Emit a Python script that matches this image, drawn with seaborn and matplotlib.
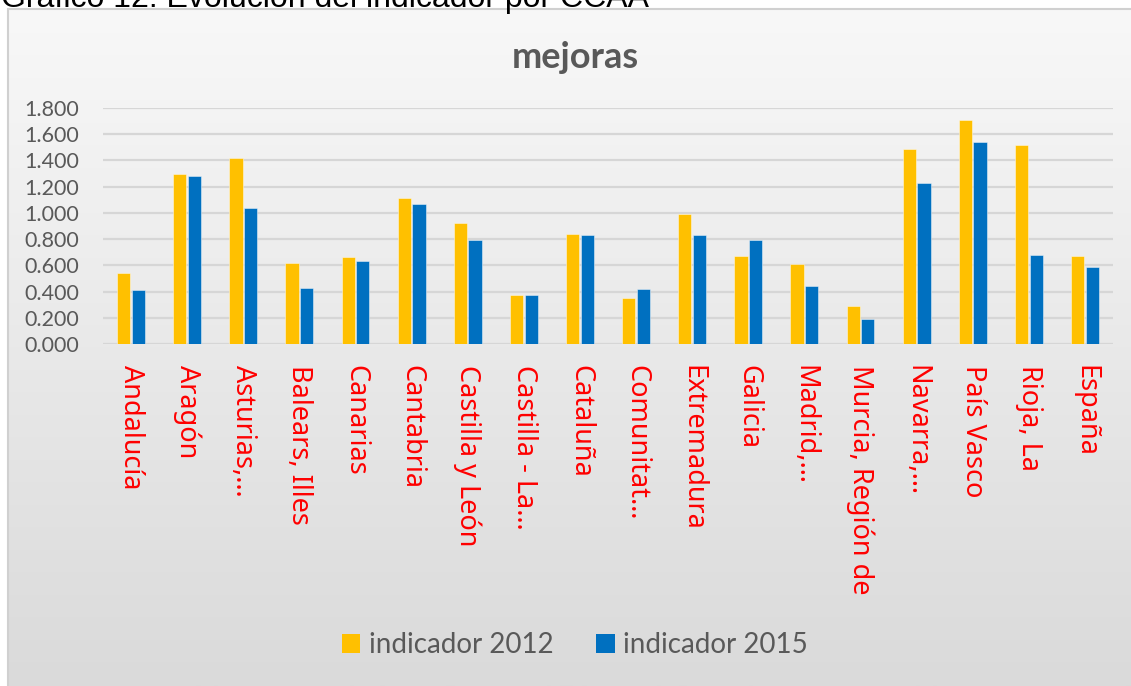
import numpy as np
import pandas as pd
import matplotlib
matplotlib.use("Agg")
import matplotlib.pyplot as plt
from matplotlib.patches import Rectangle
import seaborn as sns

# datos
ccaa = ["Andalucía", "Aragón", "Asturias,…", "Balears, Illes", "Canarias",
        "Cantabria", "Castilla y León", "Castilla - La…", "Cataluña",
        "Comunitat…", "Extremadura", "Galicia", "Madrid,…",
        "Murcia, Región de", "Navarra,…", "País Vasco", "Rioja, La", "España"]
ind_2012 = [0.54, 1.30, 1.42, 0.62, 0.66, 1.11, 0.925, 0.37, 0.84,
            0.35, 0.99, 0.67, 0.61, 0.29, 1.49, 1.71, 1.52, 0.67]
ind_2015 = [0.41, 1.28, 1.04, 0.43, 0.63, 1.07, 0.79, 0.37, 0.83,
            0.42, 0.83, 0.79, 0.44, 0.19, 1.23, 1.54, 0.68, 0.59]
series = ["indicador 2012", "indicador 2015"]
colores = ["#FFC000", "#0070C0"]
yticks = [0.0, 0.2, 0.4, 0.6, 0.8, 1.0, 1.2, 1.4, 1.6, 1.8]

df = pd.DataFrame({
    "ccaa": ccaa * 2,
    "valor": ind_2012 + ind_2015,
    "serie": [series[0]] * len(ccaa) + [series[1]] * len(ccaa),
})

W, H = 1131, 686
fig = plt.figure(figsize=(W / 100, H / 100), dpi=100)
fig.patch.set_facecolor("white")

# fondo del gráfico con degradado
bg = fig.add_axes([8 / W, 0, 1 - 8 / W, (H - 9) / H], zorder=0)
grad = np.linspace(0, 1, 256).reshape(-1, 1)
cmap = matplotlib.colors.LinearSegmentedColormap.from_list("g", ["#f8f8f8", "#dadada"])
bg.imshow(grad, aspect="auto", cmap=cmap, extent=[0, 1, 0, 1], origin="upper")
bg.set_axis_off()
fig.add_artist(Rectangle((8 / W, -0.01), 1.0, (H - 9) / H + 0.01, transform=fig.transFigure,
                         fill=False, edgecolor="#d0d0d0", linewidth=1.5, zorder=1))

ax = fig.add_axes([103 / W, (H - 344) / H, 1010 / W, 236 / H], zorder=2)
ax.patch.set_alpha(0)
sns.barplot(data=df, x="ccaa", y="valor", hue="serie", palette=colores, saturation=1,
            width=0.524, gap=0.1, ax=ax, legend=False,
            edgecolor=(1, 1, 1, 0.45), linewidth=0.7, zorder=3)
ax.set_ylim(0, 1.8)
ax.set_yticks(yticks)
ax.set_yticklabels([f"{v:.3f}" for v in yticks], family="Lato", fontsize=15.5, color="#595959")
ax.set_xlim(-0.5, len(ccaa) - 0.5)
ax.set_xticks(range(len(ccaa)))
ax.set_xticklabels(ccaa, rotation=-90, family="Noto Sans", fontsize=19.5, color="red",
                   ha="center", va="top")
ax.tick_params(axis="both", length=0)
ax.tick_params(axis="y", pad=17)
ax.tick_params(axis="x", pad=15)
ax.grid(axis="y", color="#d6d6d6", linewidth=1.6, zorder=0)
ax.set_axisbelow(True)
for s in ax.spines.values():
    s.set_visible(False)
ax.set_xlabel("")
ax.set_ylabel("")

fig.text(575 / W, 1 - 57 / H, "mejoras", ha="center", va="center", family="Lato",
         fontweight="bold", fontsize=26, color="#595959")
fig.text(0.001, 1 - 7 / H, "Gráfico 12. Evolución del indicador por CCAA", ha="left",
         va="baseline", family="Liberation Sans", fontsize=23, color="black")

handles = [Rectangle((0, 0), 1, 1, facecolor=c) for c in colores]
fig.legend(handles, series, loc="center", bbox_to_anchor=(575 / W, 1 - 645 / H), ncol=2,
           frameon=False, handlelength=0.65, handleheight=0.65, handletextpad=0.32,
           columnspacing=1.55, prop={"family": "Lato", "size": 20}, labelcolor="#595959")

fig.savefig("out.png", dpi=100)
